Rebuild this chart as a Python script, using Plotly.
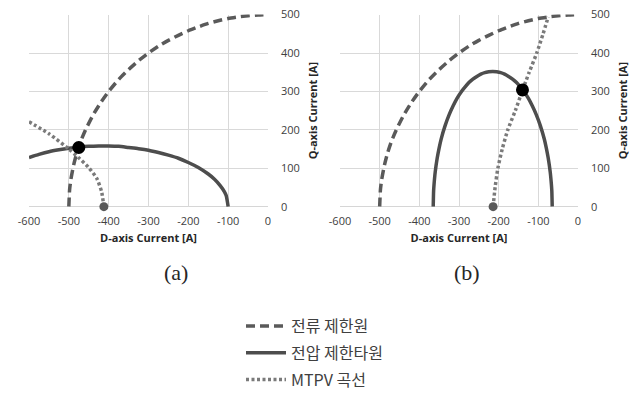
import plotly.graph_objects as go

# ---- data ----
# current limit circle (same in both panels)
circ_x = [-500, -498, -495, -488, -480, -470, -458, -440, -420, -400, -375, -350, -325, -300, -275, -250, -225, -200, -175, -150, -125, -100, -75, -50, -25, 0]
circ_y = [0, 45, 70, 108, 140, 171, 200, 237, 271, 300, 331, 357, 380, 400, 418, 433, 446, 458, 468, 477, 484, 490, 494, 497, 499, 500]

# panel (a)
volt_a_x = [-600, -575, -550, -525, -500, -475, -450, -425, -400, -375, -350, -325, -300, -275, -250, -225, -200, -175, -150, -135, -120, -110, -105, -100]
volt_a_y = [128, 136, 143, 148, 152, 155, 157, 158, 158, 157, 154, 151, 147, 141, 134, 126, 115, 102, 85, 72, 55, 40, 29, 0]
mtpv_a_x = [-600, -550, -500, -476, -451, -430, -418, -412]
mtpv_a_y = [221, 190, 150, 128, 103, 74, 40, 0]
op_a = (-475, 154)
start_a = (-412, 0)

# panel (b)
volt_b_x = [-365, -364, -363, -360, -355, -350, -345, -335, -325, -315, -305, -295, -285, -275, -265, -255, -245, -235, -225, -215,
            -205, -195, -185, -175, -165, -155, -145, -135, -125, -115, -105, -95, -85, -80, -75, -70, -67, -66, -65]
volt_b_y = [0, 41, 57, 90, 126, 153, 176, 211, 239, 262, 282, 298, 311, 323, 332, 339, 345, 349, 351, 352,
            351, 349, 345, 339, 332, 323, 311, 298, 282, 262, 239, 211, 176, 153, 126, 90, 57, 41, 0]
mtpv_b_x = [-214, -209, -202, -191, -177, -158, -141, -123, -104, -88, -75]
mtpv_b_y = [0, 50, 100, 150, 200, 250, 300, 350, 400, 450, 494]
op_b = (-140, 304)
start_b = (-214, 0)

x_ticks = [-600, -500, -400, -300, -200, -100, 0]
x_tick_text = ["-600", "-500", "-400", "-300", "-200", "-100", "0"]
y_ticks = [0, 100, 200, 300, 400, 500]
legend_names = ["전류 제한원", "전압 제한타원", "MTPV 곡선"]
panel_labels = ["(a)", "(b)"]

# ---- styles ----
C_DASH = "#5a5a5a"
C_SOLID = "#4d4d4d"
C_DOT = "#7a7a7a"
DASH = "9px,5px"
DOT = "3px,2.5px"

fig = go.Figure()

panels = [
    ("x", "y", volt_a_x, volt_a_y, mtpv_a_x, mtpv_a_y, op_a, start_a, True),
    ("x2", "y2", volt_b_x, volt_b_y, mtpv_b_x, mtpv_b_y, op_b, start_b, False),
]
for xa, ya, vx, vy, mx, my, op, st, show in panels:
    fig.add_trace(go.Scatter(x=circ_x, y=circ_y, mode="lines", xaxis=xa, yaxis=ya,
                             line=dict(color=C_DASH, width=3.5, dash=DASH, shape="spline", smoothing=0.6),
                             name=legend_names[0], showlegend=show, legendgroup="c", cliponaxis=False))
    fig.add_trace(go.Scatter(x=vx, y=vy, mode="lines", xaxis=xa, yaxis=ya,
                             line=dict(color=C_SOLID, width=3.5, shape="spline", smoothing=0.6),
                             name=legend_names[1], showlegend=show, legendgroup="v", cliponaxis=False))
    fig.add_trace(go.Scatter(x=mx, y=my, mode="lines", xaxis=xa, yaxis=ya,
                             line=dict(color=C_DOT, width=3.5, dash=DOT, shape="spline", smoothing=0.6),
                             name=legend_names[2], showlegend=show, legendgroup="m", cliponaxis=False))
    fig.add_trace(go.Scatter(x=[st[0]], y=[st[1]], mode="markers", xaxis=xa, yaxis=ya,
                             marker=dict(color="#595959", size=9), showlegend=False, cliponaxis=False))
    fig.add_trace(go.Scatter(x=[op[0]], y=[op[1]], mode="markers", xaxis=xa, yaxis=ya,
                             marker=dict(color="#000000", size=13), showlegend=False, cliponaxis=False))

W, H = 635, 397
def xd(a, b):
    return [a / W, b / W]
ydom = [1 - 212 / H, 1 - 15 / H]

axis_common_x = dict(range=[-600, 0], tickvals=x_ticks, ticktext=x_tick_text, showgrid=True, gridcolor="#d9d9d9", gridwidth=1,
                     zeroline=False, showline=False, ticks="", ticklabelstandoff=6, automargin=False,
                     tickfont=dict(family="Open Sans", size=11, color="#404040"),
                     title=dict(text="<b>D-axis Current [A]</b>", font=dict(family="Open Sans", size=11, color="#262626"), standoff=7))
axis_common_y = dict(range=[0, 500], tickvals=y_ticks, showgrid=True, gridcolor="#d9d9d9", gridwidth=1,
                     zeroline=False, showline=False, ticks="", side="right", ticklabelstandoff=12, automargin=False,
                     tickfont=dict(family="Open Sans", size=11, color="#404040"),
                     title=dict(text="<b>Q-axis Current [A]</b>", font=dict(family="Open Sans", size=11, color="#262626"), standoff=10))

fig.update_layout(
    width=W, height=H,
    margin=dict(l=0, r=0, t=0, b=0),
    paper_bgcolor="white", plot_bgcolor="white",
    xaxis=dict(domain=xd(29, 268), anchor="y", **axis_common_x),
    yaxis=dict(domain=ydom, anchor="x", **axis_common_y),
    xaxis2=dict(domain=xd(340, 578), anchor="y2", **axis_common_x),
    yaxis2=dict(domain=ydom, anchor="x2", **axis_common_y),
    legend=dict(x=241 / W, y=1 - 317 / H, xanchor="left", yanchor="top",
                font=dict(family="Noto Sans CJK KR", size=16, color="#404040"),
                bgcolor="rgba(0,0,0,0)", itemwidth=40, tracegroupgap=3),
    showlegend=True,
)

# horizontal line at y=0 (axis baseline)
for xref, yref in [("x", "y"), ("x2", "y2")]:
    fig.add_shape(type="line", xref=f"{xref} domain", yref=yref, x0=0, x1=1, y0=0, y1=0,
                  line=dict(color="#bfbfbf", width=1), layer="below")

fig.add_annotation(text=panel_labels[0], x=162 / W, y=1 - 294 / H, xref="paper", yref="paper",
                   showarrow=False, font=dict(family="Liberation Serif", size=22, color="#262626"))
fig.add_annotation(text=panel_labels[1], x=482 / W, y=1 - 294 / H, xref="paper", yref="paper",
                   showarrow=False, font=dict(family="Liberation Serif", size=22, color="#262626"))

fig.write_html("out.html")
